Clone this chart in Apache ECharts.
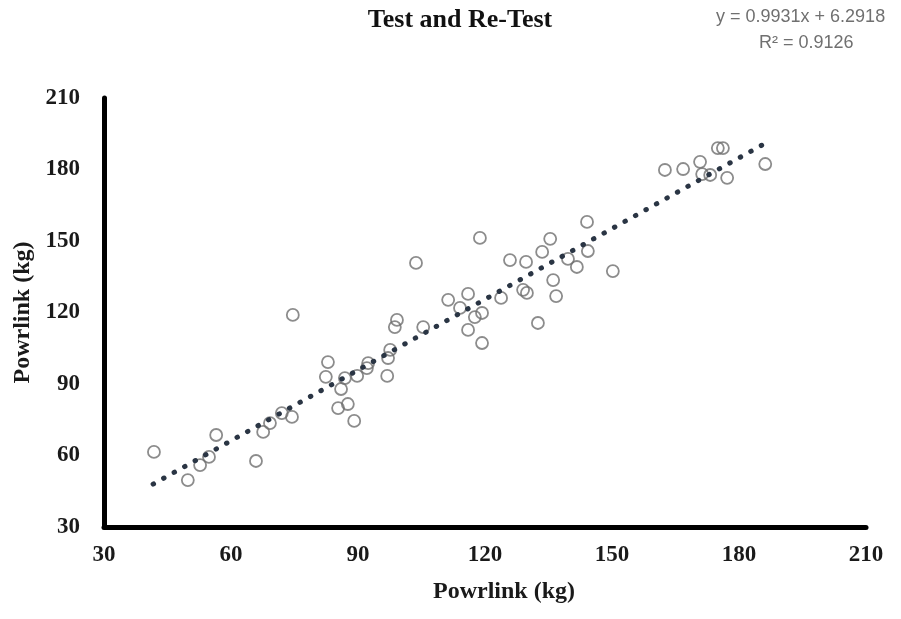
<!DOCTYPE html>
<html>
<head>
<meta charset="utf-8">
<script src="https://cdn.jsdelivr.net/npm/echarts@6/dist/echarts.min.js"></script>
<style>
  html, body { margin: 0; padding: 0; background: #fff; }
  #chart { width: 901px; height: 619px; }
</style>
</head>
<body>
<div id="chart"></div>
<script>
// test / re-test pairs
const testValues = [
  41.8, 49.8, 52.7, 54.8, 56.5, 65.9, 67.6, 69.2, 72.0, 74.4,
  74.6, 82.9, 82.4, 86.0, 85.3, 87.6, 89.1, 89.8, 86.9, 92.4,
  92.1, 96.9, 97.6, 97.1, 99.2, 98.7, 103.7, 105.4, 111.3, 114.1,
  116.0, 116.0, 117.6, 119.3, 119.3, 118.8, 123.8, 125.9, 129.7, 129.0,
  129.9, 132.5, 133.5, 135.4, 136.1, 136.8, 139.6, 141.7, 144.1, 144.3,
  150.2, 162.5, 166.8, 170.8, 171.3, 173.2, 175.0, 176.2, 177.2, 186.2
];
const retestValues = [
  61.5, 49.7, 56.0, 59.4, 68.6, 57.7, 69.9, 73.6, 77.8, 76.2,
  119.0, 99.2, 93.0, 87.9, 79.9, 81.6, 74.5, 93.4, 92.5, 98.8,
  96.7, 93.4, 104.3, 100.9, 116.9, 113.9, 140.8, 113.9, 125.3, 121.9,
  127.8, 112.7, 118.1, 119.8, 107.2, 151.3, 126.1, 142.0, 141.2, 129.5,
  128.2, 115.6, 145.4, 150.9, 133.6, 126.9, 142.5, 139.1, 158.0, 145.8,
  137.4, 179.8, 180.2, 183.2, 178.1, 177.7, 189.0, 189.0, 176.5, 182.3
];
// trend line ends as drawn
const trendX = [41.6, 185.9];
const trendY = [48.0, 190.7];
const axisTicks = [30, 60, 90, 120, 150, 180, 210];

const serif = '"Liberation Serif", "Times New Roman", serif';
const sans = '"Liberation Sans", Arial, sans-serif';

const chart = echarts.init(document.getElementById('chart'));

const points = testValues.map((x, i) => [x, retestValues[i]]);
const trend = trendX.map((x, i) => [x, trendY[i]]);

const axisCommon = {
  type: 'value',
  min: axisTicks[0],
  max: axisTicks[axisTicks.length - 1],
  interval: axisTicks[1] - axisTicks[0],
  axisLine: { show: true, lineStyle: { color: '#000', width: 5 } },
  axisTick: { show: false },
  splitLine: { show: false },
  axisLabel: {
    fontFamily: serif,
    fontWeight: 'bold',
    fontSize: 23,
    color: '#1a1a1a',
  },
};

chart.setOption({
  animation: false,
  backgroundColor: '#fff',
  grid: { left: 104, right: 35, top: 98, bottom: 92, outerBoundsMode: 'none' },
  title: {
    text: 'Test and Re-Test',
    left: 455,
    top: 2,
    textAlign: 'center',
    textStyle: { fontFamily: serif, fontWeight: 'bold', fontSize: 26, color: '#111' },
  },
  graphic: [
    {
      type: 'text',
      left: 716,
      top: 8,
      style: { text: 'y = 0.9931x + 6.2918', fontFamily: sans, fontSize: 18, fill: '#707070' },
    },
    {
      type: 'text',
      left: 759,
      top: 34,
      style: { text: 'R² = 0.9126', fontFamily: sans, fontSize: 18, fill: '#707070' },
    },
    {
      type: 'text',
      left: 433,
      top: 580,
      style: {
        text: 'Powrlink (kg)',
        fontFamily: serif,
        fontWeight: 'bold',
        fontSize: 24,
        fill: '#1a1a1a',
      },
    },
  ],
  xAxis: Object.assign({}, axisCommon, {
    axisLabel: Object.assign({}, axisCommon.axisLabel, { margin: 17 }),
  }),
  yAxis: Object.assign({}, axisCommon, {
    name: 'Powrlink (kg)',
    nameLocation: 'middle',
    nameGap: 68,
    nameRotate: 90,
    nameTextStyle: { fontFamily: serif, fontWeight: 'bold', fontSize: 24, color: '#1a1a1a' },
    axisLabel: Object.assign({}, axisCommon.axisLabel, { margin: 24 }),
  }),
  series: [
    {
      type: 'scatter',
      data: points,
      symbol: 'circle',
      symbolSize: 12,
      itemStyle: { color: 'rgba(255,255,255,0)', borderColor: '#6f6f6f', borderWidth: 1.8 },
      z: 2,
    },
    {
      type: 'line',
      data: trend,
      showSymbol: false,
      symbol: 'none',
      lineStyle: { color: '#2a3544', width: 5, type: [0.5, 11.5], cap: 'round' },
      z: 3,
    },
  ],
});
</script>
</body>
</html>
